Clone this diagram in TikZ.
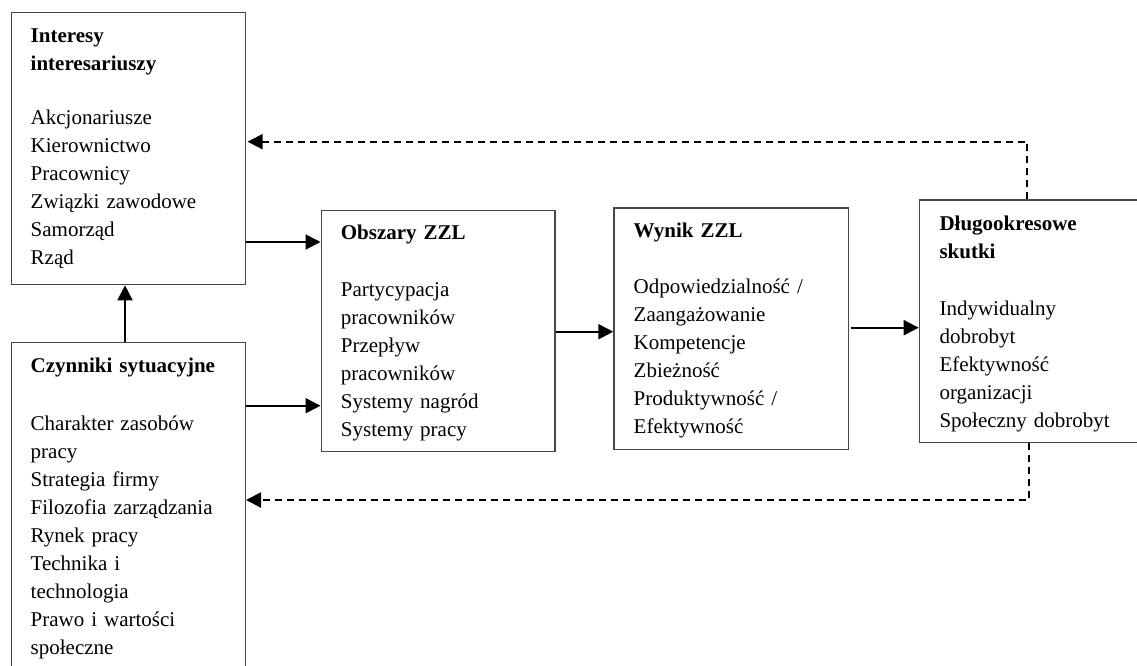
\documentclass[tikz,border=0pt]{standalone}
\usepackage{fontspec}
\setmainfont{Liberation Serif}
\usetikzlibrary{arrows.meta,calc}

\tikzset{
  box/.style={draw=black!72, line width=1.3pt, fill=white, inner sep=0pt,
              anchor=north west, minimum width=234pt},
  head/.style={anchor=base west, inner sep=0pt, align=left, text width=225pt,
               font=\fontsize{21pt}{28pt}\selectfont\bfseries},
  items/.style={anchor=base west, inner sep=0pt, align=left, text width=225pt,
                font=\fontsize{21pt}{28pt}\selectfont},
  arr/.style={line width=2pt, -{Triangle[length=15pt,width=15pt]}},
  fb/.style={arr, dash pattern=on 7pt off 5pt}
}

\begin{document}
\begin{tikzpicture}[x=1pt,y=-1pt]
\useasboundingbox (0,0) rectangle (1137,665);
\clip (0,0) rectangle (1137,665);

% boxes
\node[box, minimum height=272.3pt] (int) at (10.7,11.7) {};
\node[box, minimum height=340pt]   (czy) at (10.7,341.7) {};
\node[box, minimum width=233.8pt, minimum height=241pt] (obs) at (320.5,210) {};
\node[box, minimum width=234.4pt, minimum height=241.7pt] (wyn) at (613.3,207.3) {};
\node[box, minimum width=240pt, minimum height=242.4pt] (dlu) at (918.7,199.3) {};

% box contents
\node[head]  (intH) at (30.5,42) {Interesy\\interesariuszy};
\node[items] (intI) at (30.5,124.5) {Akcjonariusze\\Kierownictwo\\Pracownicy\\Związki zawodowe\\Samorząd\\Rząd};

\node[head]  (czyH) at (30.5,372) {Czynniki sytuacyjne};
\node[items] (czyI) at (30.5,430) {Charakter zasobów\\pracy\\Strategia firmy\\Filozofia zarządzania\\Rynek pracy\\Technika i\\technologia\\Prawo i wartości\\społeczne};

\node[head]  (obsH) at (340.7,239.5) {Obszary ZZL};
\node[items] (obsI) at (340.7,296) {Partycypacja\\pracowników\\Przepływ\\pracowników\\Systemy nagród\\Systemy pracy};

\node[head]  (wynH) at (633.5,237) {Wynik ZZL};
\node[items] (wynI) at (633.5,293) {Odpowiedzialność /\\Zaangażowanie\\Kompetencje\\Zbieżność\\Produktywność /\\Efektywność};

\node[head]  (dluH) at (939.3,230) {Długookresowe\\skutki};
\node[items] (dluI) at (939.3,315) {Indywidualny\\dobrobyt\\Efektywność\\organizacji\\Społeczny dobrobyt};

% solid connectors
\draw[arr] (czy.north -| 125,0) -- (int.south -| 125,0);
\draw[arr] (int.east |- 0,242) -- (obs.west |- 0,242);
\draw[arr] (czy.east |- 0,405.7) -- (obs.west |- 0,405.7);
\draw[arr] (obs.east |- 0,331.7) -- (wyn.west |- 0,331.7);
\draw[arr] ($(wyn.east |- 0,327.7)+(1.6,0)$) -- (dlu.west |- 0,327.7);

% feedback loops
\coordinate (topTurn) at (1027.3,141.7);
\coordinate (botTurn) at (1029.3,500);
\draw[fb] (dlu.north -| topTurn) -- (topTurn) -- ($(int.east |- topTurn)+(1.6,0)$);
\draw[fb] (dlu.south -| botTurn) -- (botTurn) -- (czy.east |- botTurn);
\end{tikzpicture}
\end{document}
